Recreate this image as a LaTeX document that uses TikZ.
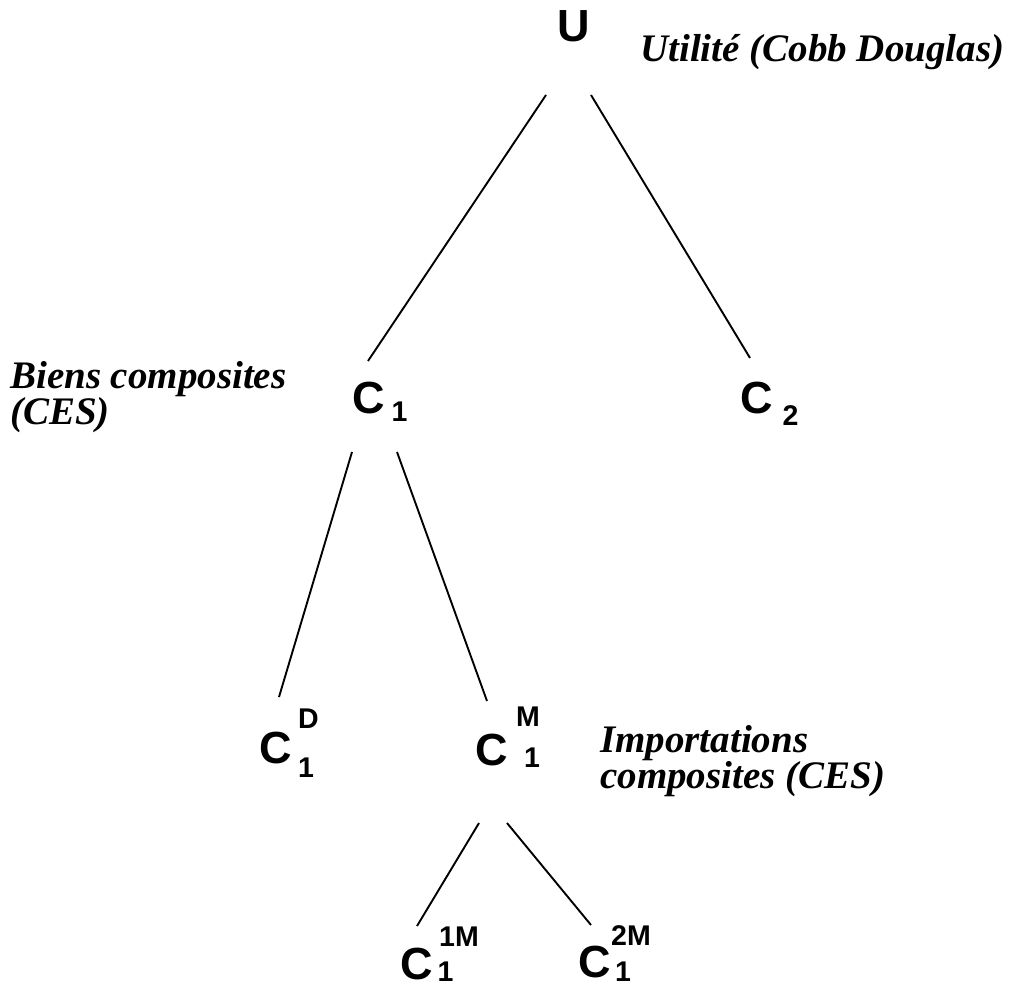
\documentclass[tikz,border=0pt]{standalone}
\usepackage{fontspec}
\setmainfont{Liberation Serif}
\newfontfamily\varfont{Liberation Sans}
\usetikzlibrary{positioning}
\tikzset{
 var/.style={inner sep=0pt,anchor=base,font=\varfont\bfseries\fontsize{45}{45}\selectfont},
 idx/.style={inner sep=0pt,anchor=base west,font=\varfont\bfseries\fontsize{28.5}{28.5}\selectfont},
 note/.style={inner sep=0pt,anchor=base west,align=left,font=\bfseries\itshape\fontsize{39}{36}\selectfont},
 branch/.style={line width=1.9pt,draw=black}
}

\begin{document}
\begin{tikzpicture}[x=1pt,y=-1pt]
 \useasboundingbox (0,0) rectangle (1009,987);
 % variables of the nested utility tree
 \node[var] (u) at (573.5,42) {U};
 \node[var] (c1) at (369,413) {C};
 \node[var] (c2) at (757,413) {C};
 \node[var] (c1d) at (275.5,763) {C};
 \node[var] (c1m) at (491.5,765) {C};
 \node[var] (c11m) at (417,979) {C};
 \node[var] (c12m) at (594.5,977) {C};
 % indices
 \node[idx] (c1sub) at ([shift={(6,8)}]c1.base east) {1};
 \node[idx] (c2sub) at ([shift={(9,12)}]c2.base east) {2};
 \node[idx] (c1dsup) at ([shift={(6,-35)}]c1d.base east) {D};
 \node[idx] (c1dsub) at ([shift={(6,14)}]c1d.base east) {1};
 \node[idx] (c1msup) at ([shift={(8,-39)}]c1m.base east) {M};
 \node[idx] (c1msub) at ([shift={(16,2)}]c1m.base east) {1};
 \node[idx] (c11msup) at ([shift={(5.5,-33)}]c11m.base east) {1M};
 \node[idx] (c11msub) at ([shift={(4,2)}]c11m.base east) {1};
 \node[idx] (c12msup) at ([shift={(0,-32)}]c12m.base east) {2M};
 \node[idx] (c12msub) at ([shift={(4,4)}]c12m.base east) {1};
 % labels
 \node[note] (unote) at (640,62) {Utilité (Cobb Douglas)};
 \node[note] (c1note) at (10,424) {Biens composites\\(CES)};
 \node[note] (c1mnote) at (600,788) {Importations\\composites (CES)};
 % branches
 \draw[branch] ([shift={(-27.5,53)}]u.base) -- ([shift={(-1,-52)}]c1.base);
 \draw[branch] ([shift={(17.5,53)}]u.base) -- ([shift={(-7,-55)}]c2.base);
 \draw[branch] ([shift={(-17,39)}]c1.base) -- ([shift={(3.5,-66)}]c1d.base);
 \draw[branch] ([shift={(28,39)}]c1.base) -- ([shift={(-4.5,-64)}]c1m.base);
 \draw[branch] ([shift={(-12.5,58)}]c1m.base) -- ([shift={(0,-53)}]c11m.base);
 \draw[branch] ([shift={(15.5,58)}]c1m.base) -- ([shift={(-3.5,-52)}]c12m.base);
\end{tikzpicture}
\end{document}
